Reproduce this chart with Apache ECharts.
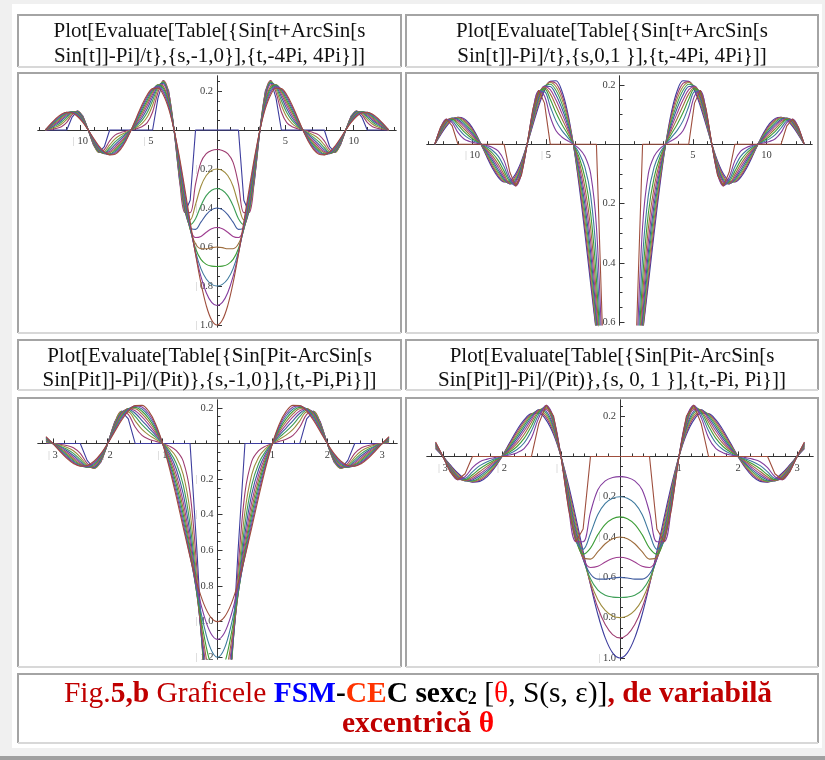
<!DOCTYPE html>
<html lang="ro">
<head>
<meta charset="UTF-8">
<title>Fig.5,b Graficele FSM-CEC sexc2</title>
<script src="https://cdn.jsdelivr.net/npm/echarts@6/dist/echarts.min.js"></script>
<style>
    html, body { margin: 0; padding: 0; background: #fff; }
    #main { width: 825px; height: 760px; }
</style>
</head>
<body>
<div id="main"></div>
<script>
    var FONT = 'Liberation Serif';

    // Mathematica default plot colours, 11 curves
    var palette = ['#3d3d9e', '#9e3d71', '#9e8b3d', '#3d9e56', '#3d5a9e', '#9e3d90',
                   '#9e6d3d', '#3d9e37', '#3d799e', '#843d9e', '#9e4e3d'];

    // sample points, right half only (every curve is even, the left half is mirrored)
    var tWide = [0, 0.3927, 0.7854, 1.1781, 1.5708, 1.9635, 2.3562, 2.7489, 3.1416, 3.5343, 3.9270,
                 4.3197, 4.7124, 5.1051, 5.4978, 5.8905, 6.2832, 6.6759, 7.0686, 7.4613, 7.8540,
                 8.2467, 8.6394, 9.0321, 9.4248, 9.8175, 10.2102, 10.6029, 10.9956, 11.3883,
                 11.7810, 12.1737, 12.5664];
    var tNarrow = [0, 0.125, 0.25, 0.375, 0.5, 0.625, 0.75, 0.875, 1, 1.125, 1.25, 1.375, 1.5,
                   1.625, 1.75, 1.875, 2, 2.125, 2.25, 2.375, 2.5, 2.625, 2.75, 2.875, 3, 3.125];

    // family A : Sin[u+ArcSin[a Sin[u]]-Pi]/u , a = -0.0 ... -1.0  (index = 10|a|)
    var famA_0 = [-1, -0.9745, -0.9003, -0.7842, -0.6366, -0.4705, -0.3001, -0.1392, 0, 0.1083, 0.1801, 0.2139, 0.2122, 0.1810, 0.1286, 0.0650, 0, -0.0573, -0.1000, -0.1238, -0.1273, -0.1120, -0.0819, -0.0424, 0, 0.0390, 0.0693, 0.0871, 0.0910, 0.0811, 0.0600, 0.0314, 0];
    var famA_1 = [-0.9, -0.8838, -0.8344, -0.7508, -0.6334, -0.4865, -0.3206, -0.1520, 0, 0.1182, 0.1923, 0.2212, 0.2111, 0.1733, 0.1192, 0.0589, 0, -0.0520, -0.0927, -0.1186, -0.1267, -0.1158, -0.0874, -0.0462, 0, 0.0426, 0.0740, 0.0901, 0.0905, 0.0777, 0.0557, 0.0285, 0];
    var famA_2 = [-0.8, -0.7916, -0.7640, -0.7107, -0.6238, -0.4984, -0.3395, -0.1645, 0, 0.1280, 0.2037, 0.2266, 0.2079, 0.1640, 0.1091, 0.0528, 0, -0.0466, -0.0849, -0.1122, -0.1247, -0.1187, -0.0926, -0.0501, 0, 0.0461, 0.0784, 0.0923, 0.0891, 0.0735, 0.0509, 0.0256, 0];
    var famA_3 = [-0.7, -0.6980, -0.6888, -0.6635, -0.6073, -0.5061, -0.3570, -0.1769, 0, 0.1376, 0.2141, 0.2301, 0.2024, 0.1531, 0.0984, 0.0465, 0, -0.0411, -0.0766, -0.1048, -0.1215, -0.1205, -0.0974, -0.0538, 0, 0.0495, 0.0824, 0.0937, 0.0868, 0.0686, 0.0460, 0.0225, 0];
    var famA_4 = [-0.6, -0.6029, -0.6089, -0.6087, -0.5835, -0.5092, -0.3728, -0.1890, 0, 0.1470, 0.2237, 0.2314, 0.1945, 0.1405, 0.0870, 0.0402, 0, -0.0355, -0.0677, -0.0961, -0.1167, -0.1212, -0.1016, -0.0576, 0, 0.0529, 0.0860, 0.0943, 0.0834, 0.0630, 0.0406, 0.0195, 0];
    var famA_5 = [-0.5, -0.5063, -0.5239, -0.5454, -0.5513, -0.5073, -0.3868, -0.2009, 0, 0.1563, 0.2321, 0.2306, 0.1838, 0.1259, 0.0748, 0.0338, 0, -0.0298, -0.0582, -0.0861, -0.1103, -0.1208, -0.1055, -0.0612, 0, 0.0563, 0.0893, 0.0940, 0.0788, 0.0564, 0.0349, 0.0164, 0];
    var famA_6 = [-0.4, -0.4083, -0.4333, -0.4726, -0.5093, -0.4996, -0.3991, -0.2127, 0, 0.1654, 0.2395, 0.2271, 0.1698, 0.1090, 0.0619, 0.0272, 0, -0.0240, -0.0482, -0.0747, -0.1019, -0.1190, -0.1088, -0.0647, 0, 0.0595, 0.0921, 0.0925, 0.0728, 0.0489, 0.0289, 0.0132, 0];
    var famA_7 = [-0.3, -0.3087, -0.3367, -0.3880, -0.4546, -0.4849, -0.4093, -0.2241, 0, 0.1743, 0.2456, 0.2204, 0.1515, 0.0895, 0.0481, 0.0206, 0, -0.0181, -0.0374, -0.0612, -0.0909, -0.1155, -0.1116, -0.0682, 0, 0.0628, 0.0945, 0.0898, 0.0650, 0.0401, 0.0225, 0.0100, 0];
    var famA_8 = [-0.2, -0.2075, -0.2331, -0.2881, -0.3820, -0.4609, -0.4173, -0.2354, 0, 0.1831, 0.2503, 0.2096, 0.1273, 0.0665, 0.0333, 0.0138, 0, -0.0122, -0.0259, -0.0455, -0.0764, -0.1098, -0.1138, -0.0716, 0, 0.0659, 0.0963, 0.0854, 0.0546, 0.0298, 0.0155, 0.0067, 0];
    var famA_9 = [-0.1, -0.1046, -0.1215, -0.1656, -0.2775, -0.4235, -0.4225, -0.2465, 0, 0.1917, 0.2535, 0.1925, 0.0925, 0.0382, 0.0173, 0.0070, 0, -0.0061, -0.0135, -0.0261, -0.0555, -0.1008, -0.1152, -0.0750, 0, 0.0690, 0.0975, 0.0784, 0.0396, 0.0171, 0.0081, 0.0034, 0];
    var famA_10 = [0, 0, 0, 0, 0, -0.3601, -0.4244, -0.2572, 0, 0.2001, 0.2546, 0.1637, 0, 0, 0, 0, 0, 0, 0, 0, 0, -0.0857, -0.1157, -0.0783, 0, 0.0720, 0.0979, 0.0667, 0, 0, 0, 0, 0];

    // family B : same expression, a = +0.0 ... +1.0
    var famB_0 = famA_0;
    var famB_1 = [-1.1, -1.0638, -0.9617, -0.8109, -0.6334, -0.4505, -0.2782, -0.1262, 0, 0.0982, 0.1669, 0.2048, 0.2111, 0.1871, 0.1374, 0.0709, 0, -0.0626, -0.1069, -0.1280, -0.1267, -0.1073, -0.0759, -0.0384, 0, 0.0354, 0.0642, 0.0834, 0.0905, 0.0839, 0.0641, 0.0343, 0];
    var famB_2 = [-1.2, -1.1517, -1.0186, -0.8307, -0.6238, -0.4264, -0.2547, -0.1131, 0, 0.0880, 0.1528, 0.1938, 0.2079, 0.1918, 0.1455, 0.0768, 0, -0.0678, -0.1131, -0.1312, -0.1247, -0.1015, -0.0694, -0.0345, 0, 0.0317, 0.0588, 0.0789, 0.0891, 0.0859, 0.0679, 0.0371, 0];
    var famB_3 = [-1.3, -1.2382, -1.0708, -0.8435, -0.6073, -0.3981, -0.2296, -0.0997, 0, 0.0776, 0.1378, 0.1809, 0.2024, 0.1947, 0.1530, 0.0826, 0, -0.0728, -0.1190, -0.1332, -0.1215, -0.0948, -0.0626, -0.0304, 0, 0.0279, 0.0530, 0.0737, 0.0868, 0.0873, 0.0714, 0.0399, 0];
    var famB_4 = [-1.4, -1.3231, -1.1182, -0.8487, -0.5835, -0.3652, -0.2030, -0.0862, 0, 0.0670, 0.1218, 0.1660, 0.1945, 0.1959, 0.1598, 0.0882, 0, -0.0778, -0.1243, -0.1341, -0.1167, -0.0870, -0.0554, -0.0262, 0, 0.0241, 0.0468, 0.0676, 0.0834, 0.0878, 0.0746, 0.0426, 0];
    var famB_5 = [-1.5, -1.4067, -1.1605, -0.8456, -0.5513, -0.3273, -0.1746, -0.0723, 0, 0.0563, 0.1047, 0.1488, 0.1838, 0.1951, 0.1658, 0.0938, 0, -0.0827, -0.1290, -0.1335, -0.1103, -0.0779, -0.0477, -0.0220, 0, 0.0203, 0.0403, 0.0606, 0.0788, 0.0875, 0.0774, 0.0454, 0];
    var famB_6 = [-1.6, -1.4887, -1.1973, -0.8328, -0.5093, -0.2836, -0.1445, -0.0583, 0, 0.0454, 0.0867, 0.1289, 0.1698, 0.1922, 0.1711, 0.0993, 0, -0.0876, -0.1330, -0.1315, -0.1019, -0.0675, -0.0394, -0.0177, 0, 0.0163, 0.0333, 0.0525, 0.0728, 0.0861, 0.0798, 0.0480, 0];
    var famB_7 = [-1.7, -1.5691, -1.2279, -0.8082, -0.4546, -0.2329, -0.1123, -0.0441, 0, 0.0343, 0.0674, 0.1058, 0.1515, 0.1865, 0.1755, 0.1046, 0, -0.0923, -0.1364, -0.1276, -0.0909, -0.0555, -0.0306, -0.0134, 0, 0.0124, 0.0259, 0.0431, 0.0650, 0.0836, 0.0819, 0.0506, 0];
    var famB_8 = [-1.8, -1.6479, -1.2517, -0.7683, -0.3820, -0.1729, -0.0777, -0.0296, 0, 0.0231, 0.0466, 0.0786, 0.1273, 0.1773, 0.1789, 0.1099, 0, -0.0970, -0.1391, -0.1213, -0.0764, -0.0412, -0.0212, -0.0090, 0, 0.0083, 0.0179, 0.0320, 0.0546, 0.0795, 0.0835, 0.0531, 0];
    var famB_9 = [-1.9, -1.7252, -1.2674, -0.7058, -0.2775, -0.0993, -0.0405, -0.0149, 0, 0.0117, 0.0243, 0.0451, 0.0925, 0.1628, 0.1811, 0.1150, 0, -0.1015, -0.1409, -0.1115, -0.0555, -0.0236, -0.0110, -0.0046, 0, 0.0042, 0.0093, 0.0184, 0.0396, 0.0730, 0.0845, 0.0556, 0];
    var famB_10 = [-2, -1.8006, -1.2732, -0.6002, 0, 0, 0, 0, 0, 0, 0, 0, 0, 0.1385, 0.1819, 0.1200, 0, -0.1059, -0.1415, -0.0948, 0, 0, 0, 0, 0, 0, 0, 0, 0, 0.0621, 0.0849, 0.0581, 0];

    // tick labels
    var xTicksWide = [-10, -5, 5, 10];
    var xTicksNarrow = [-3, -2, -1, 1, 2, 3];
    var yTicks1 = [0.2, -0.2, -0.4, -0.6, -0.8, -1.0];
    var yTicks2 = [0.2, -0.2, -0.4, -0.6];
    var yTicks3 = [0.2, -0.2, -0.4, -0.6, -0.8, -1.0, -1.2];
    var yTicks4 = [0.2, -0.2, -0.4, -0.6, -0.8, -1.0];

    var titles = [
        ['Plot[Evaluate[Table[{Sin[t+ArcSin[s', 'Sin[t]]-Pi]/t},{s,-1,0}],{t,-4Pi, 4Pi}]]'],
        ['Plot[Evaluate[Table[{Sin[t+ArcSin[s', 'Sin[t]]-Pi]/t},{s,0,1 }],{t,-4Pi, 4Pi}]]'],
        ['Plot[Evaluate[Table[{Sin[Pit-ArcSin[s', 'Sin[Pit]]-Pi]/(Pit)},{s,-1,0}],{t,-Pi,Pi}]]'],
        ['Plot[Evaluate[Table[{Sin[Pit-ArcSin[s', 'Sin[Pit]]-Pi]/(Pit)},{s, 0, 1 }],{t,-Pi, Pi}]]']
    ];

    var panels = [
        { rect: {left: 38, top: 76, width: 358, height: 251}, xr: 13.1, ymin: -1.01, ymax: 0.277,
          ts: tWide, xTicks: xTicksWide, xMinor: 1, yTicks: yTicks1,
          curves: [famA_10, famA_9, famA_8, famA_7, famA_6, famA_5, famA_4, famA_3, famA_2, famA_1, famA_0] },
        { rect: {left: 427, top: 76, width: 385, height: 249}, xr: 13.1, ymin: -0.61, ymax: 0.23,
          ts: tWide, xTicks: xTicksWide, xMinor: 1, yTicks: yTicks2,
          curves: [famB_0, famB_1, famB_2, famB_3, famB_4, famB_5, famB_6, famB_7, famB_8, famB_9, famB_10] },
        { rect: {left: 38, top: 400, width: 359, height: 259}, xr: 3.27, ymin: -1.21, ymax: 0.244,
          ts: tNarrow, xTicks: xTicksNarrow, xMinor: 0.2, yTicks: yTicks3,
          curves: [famB_10, famB_9, famB_8, famB_7, famB_6, famB_5, famB_4, famB_3, famB_2, famB_1, famB_0] },
        { rect: {left: 427, top: 400, width: 386, height: 260}, xr: 3.27, ymin: -1.01, ymax: 0.28,
          ts: tNarrow, xTicks: xTicksNarrow, xMinor: 0.2, yTicks: yTicks4,
          curves: [famA_0, famA_1, famA_2, famA_3, famA_4, famA_5, famA_6, famA_7, famA_8, famA_9, famA_10] }
    ];

    function mirror(ts, ys) {
        var out = [];
        for (var i = ts.length - 1; i > 0; i--) out.push([-ts[i], ys[i]]);
        for (var j = 0; j < ts.length; j++) out.push([ts[j], ys[j]]);
        return out;
    }

    function minorTicks(lo, hi, step, majors) {
        var out = [];
        for (var i = Math.ceil(lo / step - 1e-9); i * step <= hi + 1e-9; i++) {
            var v = Math.round(i * step * 1000) / 1000;
            if (v !== 0 && majors.indexOf(v) < 0) out.push(v);
        }
        return out;
    }

    function labelFmt(dec) {
        return function (v) {
            var s = Math.abs(v).toFixed(dec);
            return v < 0 ? '{bar||}{num| ' + s + '}' : '{num|' + s + '}';
        };
    }

    var labelRich = {
        bar: {color: '#c4c4c4', fontFamily: FONT, fontSize: 10},
        num: {color: '#404040', fontFamily: FONT, fontSize: 10.5}
    };
    var lineStyle = {color: '#333', width: 1};

    var grids = [], xAxes = [], yAxes = [], series = [];

    panels.forEach(function (p, i) {
        var g = i * 2;
        var r = p.rect;
        // axes cross at (0,0): labels must follow, so shift the axes in with offset
        var offX = -r.height * (0 - p.ymin) / (p.ymax - p.ymin);
        var offY = -r.width / 2;
        grids.push(Object.assign({outerBoundsMode: 'none'}, r));
        grids.push(Object.assign({outerBoundsMode: 'none'}, r));

        // main axes: long ticks + labels
        xAxes.push({
            type: 'value', gridIndex: g, min: -p.xr, max: p.xr, position: 'bottom', offset: offX,
            axisLine: {onZero: false, lineStyle: lineStyle}, splitLine: {show: false},
            axisTick: {inside: true, length: 5, customValues: p.xTicks, lineStyle: lineStyle},
            axisLabel: {customValues: p.xTicks, margin: 6, formatter: labelFmt(0), rich: labelRich}
        });
        yAxes.push({
            type: 'value', gridIndex: g, min: p.ymin, max: p.ymax, position: 'left', offset: offY,
            axisLine: {onZero: false, lineStyle: lineStyle}, splitLine: {show: false},
            axisTick: {inside: true, length: 5, customValues: p.yTicks, lineStyle: lineStyle},
            axisLabel: {customValues: p.yTicks, margin: 4, formatter: labelFmt(1), rich: labelRich}
        });
        // twin axes only for the short minor ticks
        xAxes.push({
            type: 'value', gridIndex: g + 1, min: -p.xr, max: p.xr, position: 'bottom', offset: offX,
            axisLine: {onZero: false, lineStyle: lineStyle}, splitLine: {show: false},
            axisTick: {inside: true, length: 3, lineStyle: lineStyle,
                customValues: minorTicks(-p.xr, p.xr, p.xMinor, p.xTicks)},
            axisLabel: {show: false}
        });
        yAxes.push({
            type: 'value', gridIndex: g + 1, min: p.ymin, max: p.ymax, position: 'left', offset: offY,
            axisLine: {onZero: false, lineStyle: lineStyle}, splitLine: {show: false},
            axisTick: {inside: true, length: 3, lineStyle: lineStyle,
                customValues: minorTicks(p.ymin, p.ymax, 0.05, p.yTicks)},
            axisLabel: {show: false}
        });

        p.curves.forEach(function (c, j) {
            var kinked = (c === famA_10 || c === famB_10);
            series.push({
                type: 'line', xAxisIndex: g, yAxisIndex: g,
                data: mirror(p.ts, c),
                showSymbol: false, symbol: 'none',
                smooth: kinked ? false : 0.35,
                clip: true, silent: true,
                lineStyle: {width: 1.1, color: palette[j]},
                itemStyle: {color: palette[j]}
            });
        });
    });

    // page frame, table cells and text
    var graphics = [
        {type: 'rect', shape: {x: 0, y: 0, width: 12, height: 760}, style: {fill: '#f0f0f0'}},
        {type: 'rect', shape: {x: 0, y: 0, width: 825, height: 4}, style: {fill: '#f0f0f0'}},
        {type: 'rect', shape: {x: 822, y: 0, width: 3, height: 760}, style: {fill: '#f0f0f0'}},
        {type: 'rect', shape: {x: 0, y: 748, width: 825, height: 8}, style: {fill: '#f0f0f0'}},
        {type: 'rect', shape: {x: 0, y: 756, width: 825, height: 4}, style: {fill: '#a0a0a0'}}
    ];

    function cell(x, y, w, h) {
        graphics.push({type: 'polyline', shape: {points: [[x, y + h], [x, y], [x + w, y], [x + w, y + h]]},
            style: {stroke: '#a4a4a4', lineWidth: 2, fill: null}});
        graphics.push({type: 'line', shape: {x1: x, y1: y + h, x2: x + w, y2: y + h},
            style: {stroke: '#d8d8d8', lineWidth: 2}});
    }
    cell(18, 15, 383, 52);  cell(406, 15, 412, 52);
    cell(18, 73, 383, 260); cell(406, 73, 412, 260);
    cell(18, 340, 383, 50); cell(406, 340, 412, 50);
    cell(18, 398, 383, 269); cell(406, 398, 412, 269);
    cell(18, 674, 800, 69);

    var titlePos = [[209.5, 31.5, 56], [612, 31.5, 56], [209.5, 356.5, 380], [612, 356.5, 380]];
    titles.forEach(function (t, i) {
        var pos = titlePos[i];
        [t[0], t[1]].forEach(function (line, k) {
            graphics.push({type: 'text', x: pos[0], y: pos[1 + k], z: 5,
                style: {text: line, fill: '#111', font: '21px "' + FONT + '"', align: 'center', verticalAlign: 'middle'}});
        });
    });

    var capSize = 29.5;
    function cs(extra) { return Object.assign({fontFamily: FONT, fontSize: capSize}, extra); }
    var capRich = {
        r: cs({fill: '#c00000'}),
        rb: cs({fill: '#c00000', fontWeight: 'bold'}),
        bl: cs({fill: '#0000ff', fontWeight: 'bold'}),
        kb: cs({fill: '#000000', fontWeight: 'bold'}),
        or: cs({fill: '#ff3300', fontWeight: 'bold'}),
        kn: cs({fill: '#000000'}),
        red: cs({fill: '#ff0000'}),
        redb: cs({fill: '#ff0000', fontWeight: 'bold'}),
        sub: {fontFamily: FONT, fontSize: 18, fill: '#000000', fontWeight: 'bold', padding: [10, 0, 0, 0]}
    };
    graphics.push({type: 'text', x: 418, y: 694.5, z: 5, style: {
        text: '{r|Fig.}{rb|5,b}{r| Graficele }{bl|FSM}{kb|-}{or|CE}{kb|C sexc}{sub|2}{kn| [}{red|θ}{kn|, S(s, ε)]}{rb|, de variabilă}',
        rich: capRich, font: capSize + 'px "' + FONT + '"', align: 'center', verticalAlign: 'middle'}});
    graphics.push({type: 'text', x: 418, y: 724.5, z: 5, style: {
        text: '{rb|excentrică }{redb|θ}',
        rich: capRich, font: 'bold ' + capSize + 'px "' + FONT + '"', align: 'center', verticalAlign: 'middle'}});

    var chart = echarts.init(document.getElementById('main'), null, {renderer: 'canvas'});
    chart.setOption({
        backgroundColor: '#ffffff',
        animation: false,
        textStyle: {fontFamily: FONT},
        grid: grids,
        xAxis: xAxes,
        yAxis: yAxes,
        series: series,
        graphic: graphics
    });
</script>
</body>
</html>
